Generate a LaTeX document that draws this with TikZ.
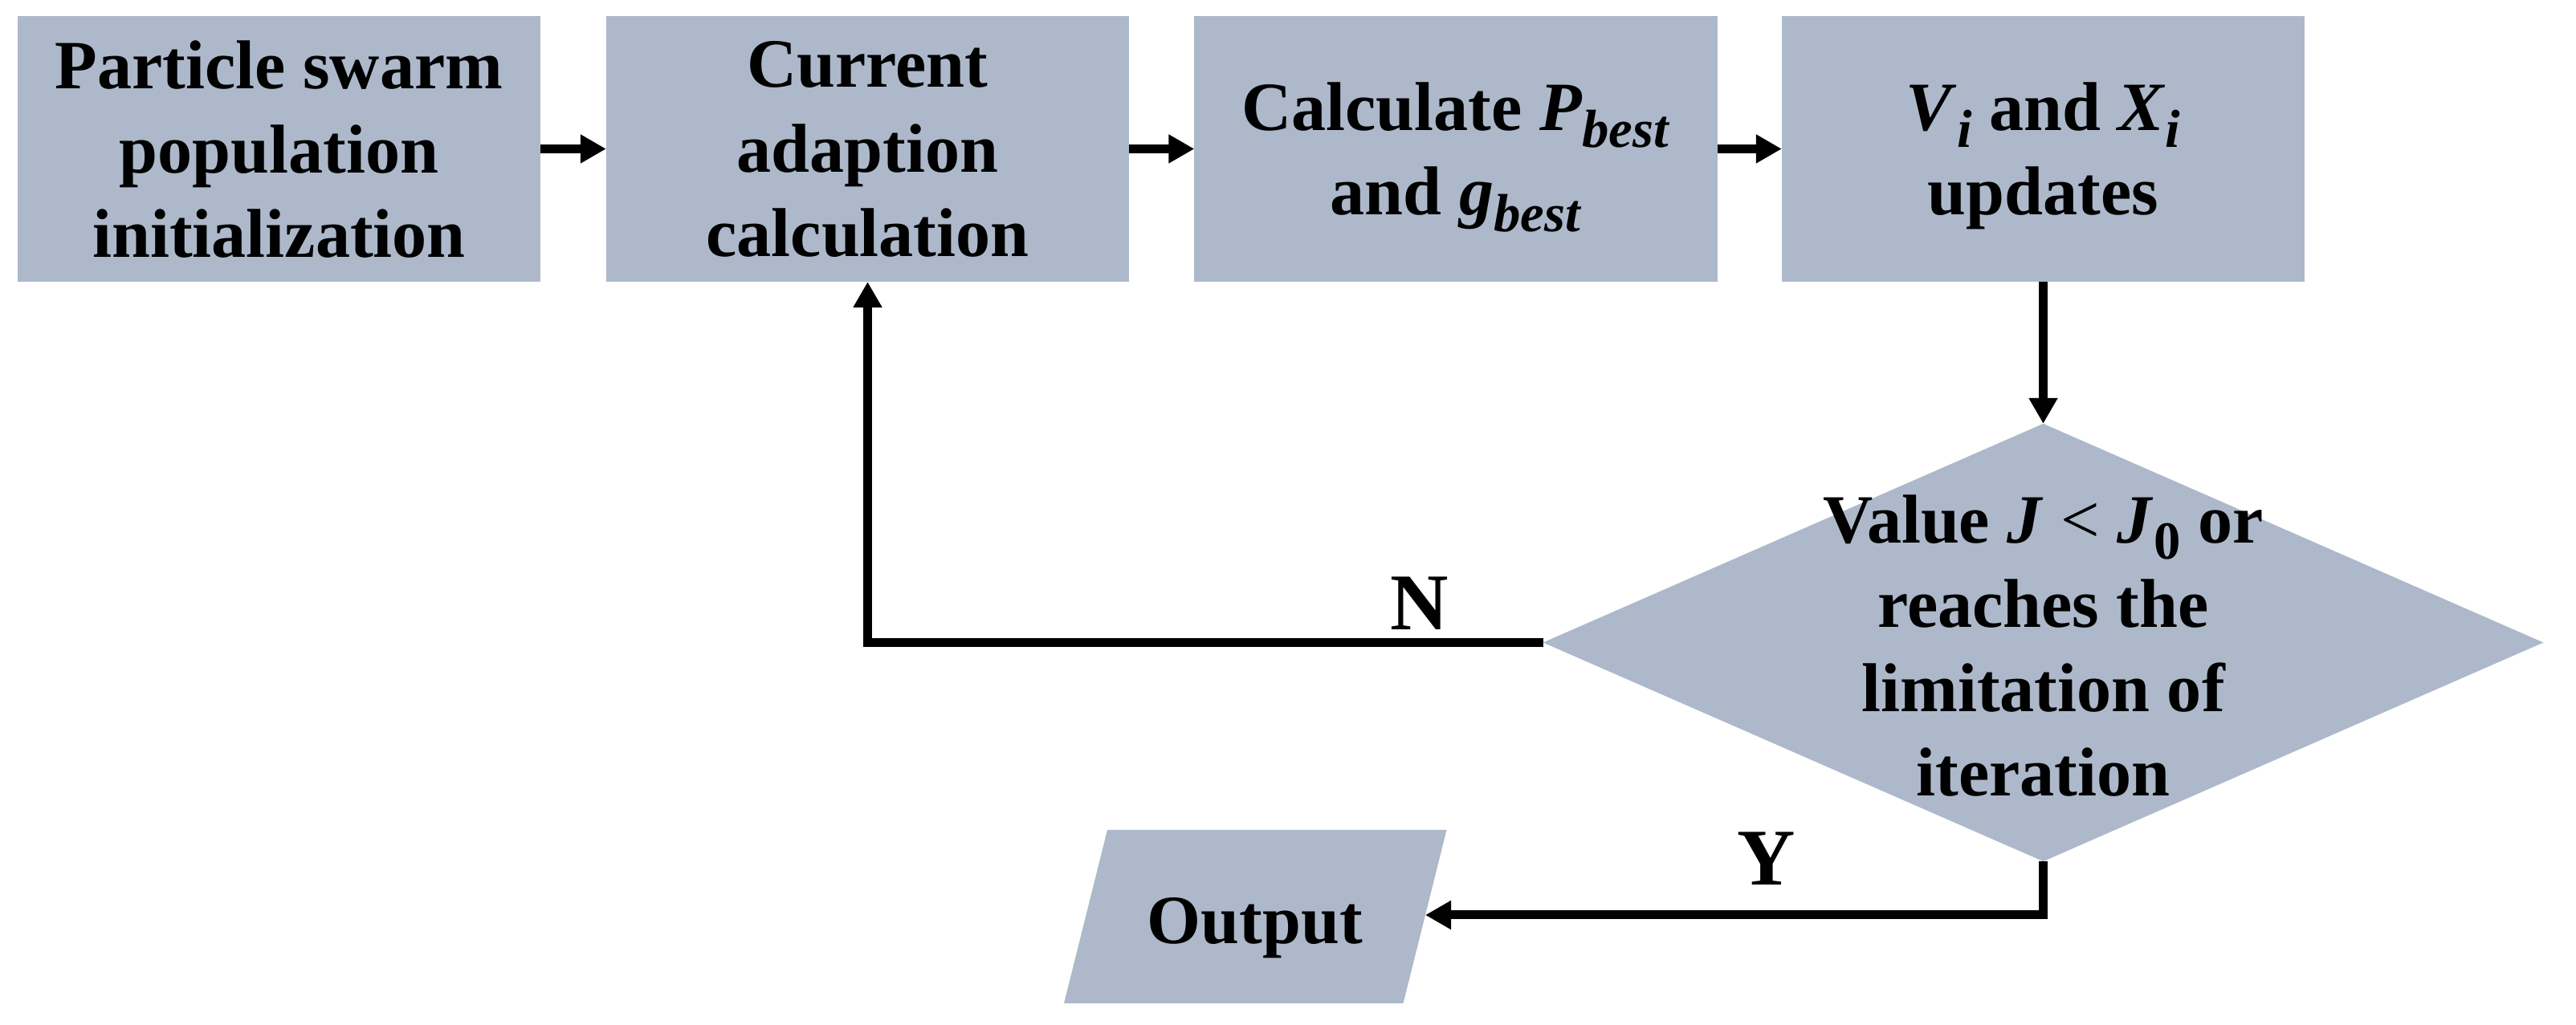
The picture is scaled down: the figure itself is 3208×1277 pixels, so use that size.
\documentclass[tikz,border=0pt]{standalone}
\usepackage{fontspec}
\setmainfont{Liberation Serif}
\usetikzlibrary{arrows.meta,shapes.geometric}
\definecolor{boxfill}{RGB}{173,185,202}
\newcommand\lsub[1]{\raisebox{-0.24em}{\fontsize{19}{19}\selectfont #1}}
\newcommand\bodyfont{\fontsize{24.5}{29.9}\selectfont\bfseries}
\begin{document}
\begin{tikzpicture}[x=0.01cm,y=-0.01cm,
  box/.style={rectangle, fill=boxfill, minimum width=6.51cm, minimum height=3.31cm,
    inner sep=0pt, outer sep=0pt, align=center, font=\bodyfont, text depth=0pt},
  dia/.style={diamond, fill=boxfill, minimum width=12.45cm, minimum height=5.45cm,
    inner sep=0pt, outer sep=0pt},
  txt/.style={inner sep=0pt, outer sep=0pt, align=center, font=\bodyfont, text depth=0pt},
  lbl/.style={inner sep=0pt, font=\fontsize{28.5}{28.5}\selectfont\bfseries},
  arr/.style={line width=0.11cm, -{Triangle[length=0.32cm,width=0.34cm]}}]
\useasboundingbox (0,0) rectangle (3208,1277);
\node[box] (b1) at (347.5,185.5) {Particle swarm\\population\\initialization};
\node[box] (b2) at (1080.5,185.5) {Current\\adaption\\calculation};
\node[box] (b3) at (1813,185.5) {Calculate \textit{P}\lsub{\textit{best}}\\and \textit{g}\lsub{\textit{best}}};
\node[box] (b4) at (2544.5,185.5) {\textit{V}\lsub{\textit{i}} and \textit{X}\lsub{\textit{i}}\\updates};
\node[dia] (dec) at (2544.5,800.5) {};
\node[txt] (dect) at (2544.5,804) {Value \textit{J} {\mdseries<} \textit{J}\lsub{0} or\\reaches the\\limitation of\\iteration};
\fill[boxfill] (1379,1034) -- (1801.5,1034) -- (1747.5,1250) -- (1325,1250) -- cycle;
\node[txt] (out) at (1563,1147) {Output};
\coordinate (outR) at (1775,1140);
\draw[arr] (b1.east) -- (b2.west);
\draw[arr] (b2.east) -- (b3.west);
\draw[arr] (b3.east) -- (b4.west);
\draw[arr] (b4.south) -- (dec.north);
\draw[arr] (dec.west) -| (b2.south);
\draw[arr] (dec.south) |- (outR);
\node[lbl, anchor=base] (nlab) at (1768,785) {N};
\node[lbl, anchor=base] (ylab) at (2200,1103) {Y};
\end{tikzpicture}
\end{document}
